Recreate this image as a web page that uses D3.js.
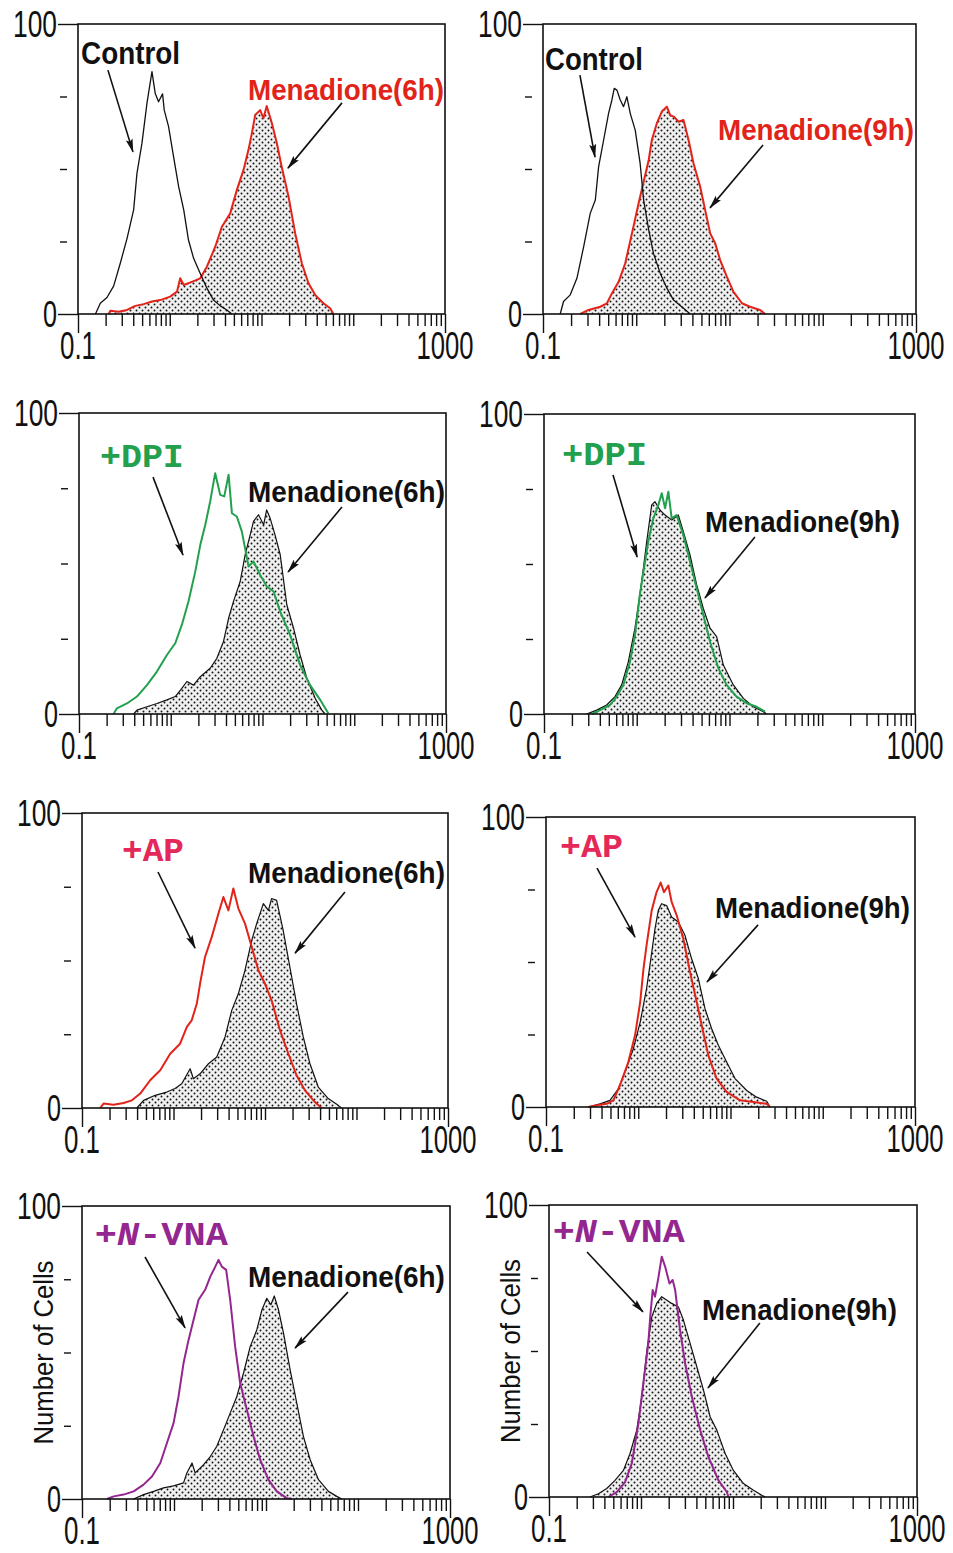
<!DOCTYPE html>
<html>
<head>
<meta charset="utf-8">
<script src="https://cdn.jsdelivr.net/npm/d3@7"></script>
<style>
  body { margin: 0; background: #fff; }
  svg { display: block; }
</style>
</head>
<body>
<div id="chart"></div>
<script>
// axis values
const xDomain = [0.1, 1000];
const yDomain = [0, 100];
const yTicks = [0, 25, 50, 75, 100];
const yTickLabels = [0, 100];
const xTickLabels = [0.1, 1000];

// histograms, [fluorescence, number of cells]
const p1Control = [[0.155,0],[0.175,3.7],[0.207,5.7],[0.245,9.7],[0.289,17.5],[0.342,26],[0.404,35.9],[0.439,48.5],[0.498,58.9],[0.564,72.6],[0.64,83.6],[0.695,76],[0.755,73.2],[0.835,75.9],[0.871,70.3],[0.971,64.6],[1.10,54.3],[1.25,43.9],[1.42,35.9],[1.60,25.5],[1.82,19.2],[2.15,14],[2.54,8.9],[3.0,4.8],[3.55,2.8],[4.19,1.4],[4.75,0]];
const p1Men6h = [[0.216,0],[0.225,1.1],[0.277,0.8],[0.342,1.4],[0.421,2.8],[0.519,3.4],[0.64,4.3],[0.788,4.8],[1.01,6],[1.20,7.7],[1.30,12.3],[1.42,10],[1.74,11.1],[2.15,12.3],[2.54,16.3],[3.13,23.2],[3.70,30.1],[4.56,34.7],[5.39,42.8],[6.37,49.7],[7.21,56.6],[7.85,62.3],[8.53,68.6],[9.67,70.3],[10.5,67.5],[11.4,71.7],[13.0,65.7],[14.7,58.9],[16.6,50.8],[19.7,40.5],[23.3,27.8],[27.5,17.5],[32.5,10.6],[38.4,6.6],[47.3,3.7],[56.0,2],[60.8,0]];

const p2Control = [[0.153,0],[0.166,4.3],[0.196,6.6],[0.231,12.3],[0.273,23.2],[0.321,34.7],[0.364,39.3],[0.395,50.8],[0.447,60],[0.505,69.2],[0.548,73.8],[0.581,77.8],[0.621,77.2],[0.674,73.8],[0.731,71.5],[0.794,74.9],[0.862,69.2],[0.975,63.4],[1.10,52],[1.20,39.3],[1.36,29],[1.53,20.9],[1.81,14],[2.13,8.9],[2.51,4.8],[3.21,2],[3.79,0]];
const p2Men9h = [[0.251,0],[0.308,1.4],[0.411,2.5],[0.485,3.7],[0.548,7.1],[0.647,11.1],[0.762,17.5],[0.899,27.8],[1.06,38.2],[1.20,45.6],[1.36,53.1],[1.47,60],[1.66,65.7],[1.88,69.8],[2.13,71.5],[2.31,68.6],[2.55,68],[2.84,66.3],[3.21,66.9],[3.64,60],[4.11,52],[4.85,43.9],[5.48,35.9],[6.21,27.8],[7.02,24.4],[7.94,18.6],[9.36,12.9],[11.0,7.7],[13.6,3.7],[16.6,2.5],[21.3,1.4],[24.1,0]];

const p3Men6h = [[0.394,0],[0.428,1.3],[0.55,2.4],[0.707,3.5],[0.908,4.7],[1.12,5.8],[1.32,8.5],[1.50,10.8],[1.77,9.6],[2.10,12.4],[2.69,15.2],[3.18,18.5],[3.76,24.1],[4.27,31.8],[4.83,37.4],[5.71,44],[6.47,52.9],[7.34,59.5],[7.98,64],[9.04,66.2],[10.3,62.9],[11.1,67.8],[12.1,65.1],[13.7,59.5],[15.6,52.9],[18.4,36.3],[21.8,28.5],[25.7,19.6],[30.4,11.9],[37.5,5.2],[44.3,1.3],[48.1,0]];
const p3Dpi = [[0.238,0],[0.259,1.9],[0.333,3.5],[0.428,5.8],[0.55,9.6],[0.707,14.1],[0.908,19.6],[1.12,23.5],[1.32,29.6],[1.56,37.4],[1.85,47.3],[2.10,56.2],[2.38,62.9],[2.69,70.6],[3.05,80],[3.46,72.8],[3.83,72.3],[4.27,79.5],[4.64,66.7],[5.25,65.6],[5.96,60.6],[7.05,49],[7.98,50.7],[9.44,46.2],[11.1,42.4],[13.2,40.7],[15.6,34],[20.0,26.3],[25.7,16.3],[33.0,9.6],[42.5,4.7],[52.3,0.2]];

const p4Men9h = [[0.288,0],[0.37,1.3],[0.474,3],[0.583,5.8],[0.688,9.7],[0.811,17.4],[0.957,28.6],[1.08,39.7],[1.18,48.6],[1.28,57.4],[1.45,69.7],[1.57,70.8],[1.78,68],[2.02,66.3],[2.38,64.7],[2.81,66.3],[3.18,60.8],[3.75,53],[4.43,43],[5.22,35.2],[6.17,28.6],[7.27,25.8],[8.58,16.3],[11.0,9.7],[14.1,5.2],[18.1,2.4],[23.2,0.8],[25.1,0]];
const p4Dpi = [[0.327,0],[0.402,1.3],[0.515,3],[0.608,5.8],[0.717,9.7],[0.845,17.4],[0.957,26.3],[1.08,39.7],[1.18,47.4],[1.33,57.4],[1.51,65.2],[1.71,69.7],[1.86,73.6],[2.02,68.6],[2.19,74.1],[2.38,65.2],[2.69,66.3],[3.18,59.7],[3.75,50.8],[4.43,41.9],[5.22,33],[6.17,24.1],[7.59,15.2],[9.31,9.7],[11.9,5.8],[15.3,3.6],[19.6,2.4],[24.2,0.8]];

const p5Men6h = [[0.398,0],[0.471,2.6],[0.631,4.3],[0.845,5.4],[1.04,6.6],[1.23,8.2],[1.52,13.3],[1.65,9.9],[1.95,11.6],[2.41,15],[2.97,17.3],[3.66,24.1],[4.33,33.1],[5.12,38.8],[6.05,46.7],[7.16,56.8],[8.11,62.5],[9.59,69.3],[10.9,67],[11.8,71],[13.4,70.4],[15.8,60.2],[18.7,47.8],[22.1,35.4],[26.2,24.1],[31.0,15],[38.2,7.1],[49.1,3.2],[63.1,0.9],[68.5,0]];
const p5Ap = [[0.158,0],[0.172,1.5],[0.221,1.1],[0.285,1.7],[0.351,2.6],[0.433,4.9],[0.556,9.4],[0.716,12.8],[0.92,18.4],[1.18,21.8],[1.40,27.5],[1.58,29.7],[1.80,35.4],[1.95,42.1],[2.21,51.2],[2.62,58],[3.10,65.9],[3.51,71.5],[3.98,67],[4.51,74.4],[5.12,67.6],[6.05,62.5],[7.16,54.6],[8.46,46.7],[10.0,42.1],[11.8,36.5],[14.6,26.3],[18.0,18.4],[22.1,11.1],[27.3,6],[35.1,2],[41.5,0]];

const p6Men9h = [[0.288,0],[0.385,1.1],[0.494,2.3],[0.608,6.3],[0.718,12.1],[0.885,20.1],[1.05,29.3],[1.23,40.8],[1.34,48.9],[1.52,61.5],[1.65,67.8],[1.79,70.1],[2.03,69.5],[2.30,65.5],[2.72,63.8],[3.21,59.2],[3.79,51.1],[4.48,44.3],[5.29,33.9],[6.25,27],[7.38,21.3],[9.08,15.5],[11.2,9.8],[15.0,5.7],[19.2,3.4],[24.7,2],[26.8,0]];
const p6Ap = [[0.288,0],[0.354,0.6],[0.455,1.1],[0.537,2.3],[0.634,7.5],[0.78,15.5],[0.923,24.7],[1.05,36.2],[1.14,47.7],[1.23,55.7],[1.40,67.8],[1.58,74.1],[1.75,77.4],[1.90,74.1],[2.12,76.4],[2.30,70.7],[2.61,66.1],[3.08,58],[3.64,46.6],[4.30,36.2],[4.87,28.2],[5.75,17.8],[7.08,9.8],[9.08,5.2],[12.7,2.3],[17.7,1.7],[24.7,1.1],[26.8,0]];

const p7Men6h = [[0.364,0],[0.467,1.5],[0.60,2.6],[0.77,3.8],[0.989,4.5],[1.27,5.5],[1.38,8.9],[1.57,12.3],[1.70,8.9],[2.10,11.7],[2.48,14.5],[2.92,18],[3.45,23.6],[4.08,29.3],[4.82,35],[5.70,43],[6.73,52],[7.94,57.7],[9.02,64.5],[10.2,68.5],[11.3,66.3],[12.3,69.3],[13.7,64.5],[15.5,56.6],[18.3,44.1],[21.6,32.7],[25.5,21.4],[30.2,13.4],[37.2,6.6],[47.7,2.6],[58.8,0.9],[66.7,0]];
const p7Nvna = [[0.187,0],[0.221,0.9],[0.283,1.5],[0.364,2.6],[0.467,4.9],[0.576,7.7],[0.71,12.3],[0.838,19.1],[0.989,25.9],[1.12,35],[1.27,46.4],[1.44,54.3],[1.63,61.1],[1.85,68],[2.18,71.4],[2.48,75.9],[2.81,79.3],[3.05,81.6],[3.31,79.3],[3.69,78.2],[4.08,68],[4.62,52],[5.24,39.5],[6.19,30.5],[7.31,21.4],[8.64,13.4],[10.6,6.6],[13.1,2.6],[16.8,0.3],[19.1,0]];

const p8Men9h = [[0.279,0],[0.344,1.1],[0.424,2.9],[0.522,5.7],[0.644,9.1],[0.76,14.9],[0.899,22.9],[1.02,34.3],[1.16,50.3],[1.31,61.7],[1.48,66.3],[1.68,68.6],[1.91,67.4],[2.16,66.3],[2.55,65.1],[2.89,60.6],[3.42,52.6],[4.04,44.6],[4.78,36.6],[5.65,27.4],[6.67,22.9],[8.22,14.9],[10.1,9.1],[13.0,4.6],[16.7,2.3],[20.6,0.6],[22.4,0]];
const p8Nvna = [[0.442,0],[0.545,1.7],[0.671,5.1],[0.793,11.4],[0.937,25.1],[1.06,38.9],[1.20,52.6],[1.26,61.7],[1.34,70.9],[1.42,68.6],[1.55,75.4],[1.68,82.3],[1.83,78.9],[2.04,73.1],[2.21,74.3],[2.35,70.9],[2.66,57.1],[3.02,45.7],[3.57,34.3],[4.40,22.9],[5.41,13.7],[6.95,5.7],[8.57,1.7],[8.93,0]];

const RED = "#e2231a", GREEN = "#22a04e", PINK = "#e5285a", PURPLE = "#93268f";

// panel layout on the page
const boxes = [
  {x: 78,  y: 24,   w: 367, h: 290},
  {x: 543, y: 24,   w: 373, h: 290},
  {x: 79,  y: 413,  w: 367, h: 301},
  {x: 544, y: 414,  w: 371, h: 300},
  {x: 82,  y: 813,  w: 366, h: 295},
  {x: 546, y: 817,  w: 369, h: 290},
  {x: 82,  y: 1206, w: 368, h: 293},
  {x: 549, y: 1205, w: 368, h: 292}
];

const bold = "bold-sans", mono = "mono";
const panels = [
  {shaded: p1Men6h, shadedStroke: RED, line: p1Control, lineColor: "#111", lineWidth: 1.3,
   labels: [{text: "Control", at: [0.108, 86.2], color: "#111", font: bold, size: 32, len: 99},
            {text: "Menadione(6h)", at: [7.13, 73.8], color: RED, font: bold, size: 30, len: 196}],
   arrows: [[[0.212, 84.1], [0.397, 55.9]], [[75.4, 72.8], [19.4, 50.3]]]},
  {shaded: p2Men9h, shadedStroke: RED, line: p2Control, lineColor: "#111", lineWidth: 1.3,
   labels: [{text: "Control", at: [0.105, 84.1], color: "#111", font: bold, size: 32, len: 98},
            {text: "Menadione(9h)", at: [7.53, 60], color: RED, font: bold, size: 30, len: 196}],
   arrows: [[[0.249, 82.4], [0.361, 54.1]], [[22.9, 58.3], [6.18, 36.6]]]},
  {shaded: p3Men6h, shadedStroke: "#111", line: p3Dpi, lineColor: GREEN, lineWidth: 2,
   labels: [{text: "+DPI", at: [0.169, 82.1], color: GREEN, font: mono, size: 34, len: 84},
            {text: "Menadione(6h)", at: [6.95, 70.4], color: "#111", font: bold, size: 30, len: 197}],
   arrows: [[[0.641, 78.7], [1.36, 52.8]], [[73.5, 68.8], [19, 47.2]]]},
  {shaded: p4Men9h, shadedStroke: "#111", line: p4Dpi, lineColor: GREEN, lineWidth: 2,
   labels: [{text: "+DPI", at: [0.156, 83], color: GREEN, font: mono, size: 34, len: 85},
            {text: "Menadione(9h)", at: [5.44, 60.7], color: "#111", font: bold, size: 30, len: 195}],
   arrows: [[[0.555, 79.7], [1.01, 52.3]], [[18.8, 59], [5.44, 38.7]]]},
  {shaded: p5Men6h, shadedStroke: "#111", line: p5Ap, lineColor: RED, lineWidth: 2,
   labels: [{text: "+AP", at: [0.274, 83.7], color: PINK, font: mono, size: 34, len: 62},
            {text: "Menadione(6h)", at: [6.52, 76.3], color: "#111", font: bold, size: 30, len: 197}],
   arrows: [[[0.677, 80], [1.72, 54.2]], [[74.8, 73.2], [21.3, 52.5]]]},
  {shaded: p6Men9h, shadedStroke: "#111", line: p6Ap, lineColor: RED, lineWidth: 2,
   labels: [{text: "+AP", at: [0.142, 86.2], color: PINK, font: mono, size: 34, len: 63},
            {text: "Menadione(9h)", at: [6.79, 65.2], color: "#111", font: bold, size: 30, len: 195}],
   arrows: [[[0.357, 82.4], [0.922, 58.6]], [[19.9, 62.8], [5.56, 43.1]]]},
  {shaded: p7Men6h, shadedStroke: "#111", line: p7Nvna, lineColor: PURPLE, lineWidth: 2,
   labels: [{text: "+N-VNA", at: [0.138, 86.7], color: PURPLE, font: mono, size: 34, len: 133},
            {text: "Menadione(6h)", at: [6.37, 72.4], color: "#111", font: bold, size: 30, len: 197}],
   arrows: [[[0.484, 82.6], [1.32, 58.4]], [[77.8, 70.6], [20.7, 51.5]]],
   yTitle: "Number of Cells"},
  {shaded: p8Men9h, shadedStroke: "#111", line: p8Nvna, lineColor: PURPLE, lineWidth: 2,
   labels: [{text: "+N-VNA", at: [0.11, 87.3], color: PURPLE, font: mono, size: 34, len: 132},
            {text: "Menadione(9h)", at: [4.6, 60.6], color: "#111", font: bold, size: 30, len: 195}],
   arrows: [[[0.259, 83.9], [1.05, 63.4]], [[19.6, 59.6], [5.35, 37.3]]],
   yTitle: "Number of Cells"}
];

const SANS = "'Liberation Sans', Arial, Helvetica, sans-serif";
const MONO = "'Liberation Mono', 'Courier New', Courier, monospace";

// squeeze a text horizontally to a measured width (condensed type of the scan)
function fit(t, px, py, width, extra = "") {
    const natural = t.node().getComputedTextLength();
    const s = natural > 0 ? width / natural : 1;
    t.attr("x", null).attr("y", null)
        .attr("transform", `translate(${px},${py}) ${extra} scale(${s},1)`);
}

const svg = d3.select("#chart")
    .append("svg")
    .attr("width", 953)
    .attr("height", 1553);

svg.append("rect").attr("width", 953).attr("height", 1553).attr("fill", "#fff");

const defs = svg.append("defs");

// stipple fill of the flow histograms
const pattern = defs.append("pattern")
    .attr("id", "dots")
    .attr("patternUnits", "userSpaceOnUse")
    .attr("width", 6)
    .attr("height", 6);
pattern.append("rect").attr("width", 6).attr("height", 6).attr("fill", "#f0f0f0");
pattern.append("circle").attr("cx", 1.5).attr("cy", 1.5).attr("r", 0.95).attr("fill", "#111");
pattern.append("circle").attr("cx", 4.5).attr("cy", 4.5).attr("r", 0.95).attr("fill", "#111");

defs.append("marker")
    .attr("id", "arrow")
    .attr("viewBox", "0 0 14 8")
    .attr("refX", 13)
    .attr("refY", 4)
    .attr("markerWidth", 14)
    .attr("markerHeight", 8)
    .attr("markerUnits", "userSpaceOnUse")
    .attr("orient", "auto")
    .append("path")
    .attr("d", "M0,0.5 L14,4 L0,7.5 L2.5,4 Z")
    .attr("fill", "#111");

panels.forEach((p, i) => {
    const b = boxes[i];
    const g = svg.append("g").attr("transform", `translate(${b.x},${b.y})`);

    const x = d3.scaleLog().domain(xDomain).range([0, b.w]);
    const y = d3.scaleLinear().domain(yDomain).range([b.h, 0]);

    const area = d3.area()
        .x(d => x(d[0]))
        .y0(b.h)
        .y1(d => y(d[1]));

    const line = d3.line()
        .x(d => x(d[0]))
        .y(d => y(d[1]));

    g.append("path")
        .datum(p.shaded)
        .attr("d", area)
        .attr("fill", "url(#dots)");

    g.append("path")
        .datum(p.shaded)
        .attr("d", line)
        .attr("fill", "none")
        .attr("stroke", p.shadedStroke)
        .attr("stroke-width", p.shadedStroke === "#111" ? 1.2 : 2)
        .attr("stroke-linejoin", "round");

    g.append("path")
        .datum(p.line)
        .attr("d", line)
        .attr("fill", "none")
        .attr("stroke", p.lineColor)
        .attr("stroke-width", p.lineWidth)
        .attr("stroke-linejoin", "round");

    // frame
    g.append("rect")
        .attr("width", b.w)
        .attr("height", b.h)
        .attr("fill", "none")
        .attr("stroke", "#111")
        .attr("stroke-width", 1.6);

    // x axis, log ticks hanging below
    const xAxis = g.append("g")
        .attr("transform", `translate(0,${b.h})`)
        .call(d3.axisBottom(x).tickValues(x.ticks()).tickSize(12).tickFormat(""));
    xAxis.select(".domain").remove();
    xAxis.selectAll(".tick line")
        .attr("stroke", "#111")
        .attr("stroke-width", 1.4)
        .attr("y2", d => (d === xDomain[0] || d === xDomain[1]) ? 19 : 12);

    xTickLabels.forEach(v => {
        const t = g.append("text")
            .attr("text-anchor", "middle")
            .attr("font-family", SANS)
            .attr("font-size", 38)
            .attr("fill", "#111")
            .text(v);
        fit(t, x(v), b.h + 45, v === 0.1 ? 36 : 57);
    });

    // y axis
    const yAxis = g.append("g")
        .call(d3.axisLeft(y).tickValues(yTicks).tickSize(20).tickFormat(""));
    yAxis.select(".domain").remove();
    yAxis.selectAll(".tick line")
        .attr("stroke", "#111")
        .attr("stroke-width", 1.4)
        .attr("x1", d => yTickLabels.includes(d) ? 0 : -11)
        .attr("x2", d => yTickLabels.includes(d) ? -20 : -18);

    yTickLabels.forEach(v => {
        const t = g.append("text")
            .attr("text-anchor", "end")
            .attr("font-family", SANS)
            .attr("font-size", 37)
            .attr("fill", "#111")
            .text(v);
        fit(t, -21, y(v) + 13, v === 100 ? 44 : 14);
    });

    if (p.yTitle) {
        const t = g.append("text")
            .attr("text-anchor", "middle")
            .attr("font-family", SANS)
            .attr("font-size", 27)
            .attr("fill", "#111")
            .text(p.yTitle);
        fit(t, -29, b.h / 2, 184, "rotate(-90)");
    }

    // arrows
    p.arrows.forEach(a => {
        g.append("line")
            .attr("x1", x(a[0][0]))
            .attr("y1", y(a[0][1]))
            .attr("x2", x(a[1][0]))
            .attr("y2", y(a[1][1]))
            .attr("stroke", "#111")
            .attr("stroke-width", 1.6)
            .attr("marker-end", "url(#arrow)");
    });

    // labels
    p.labels.forEach(l => {
        const t = g.append("text")
            .attr("fill", l.color)
            .attr("font-weight", "bold")
            .attr("font-family", l.font === mono ? MONO : SANS)
            .attr("font-size", l.size);
        if (l.text === "+N-VNA") {
            t.append("tspan").text("+");
            t.append("tspan").attr("font-style", "italic").text("N");
            t.append("tspan").text("-VNA");
        } else {
            t.text(l.text);
        }
        fit(t, x(l.at[0]), y(l.at[1]), l.len);
    });
});
</script>
</body>
</html>
